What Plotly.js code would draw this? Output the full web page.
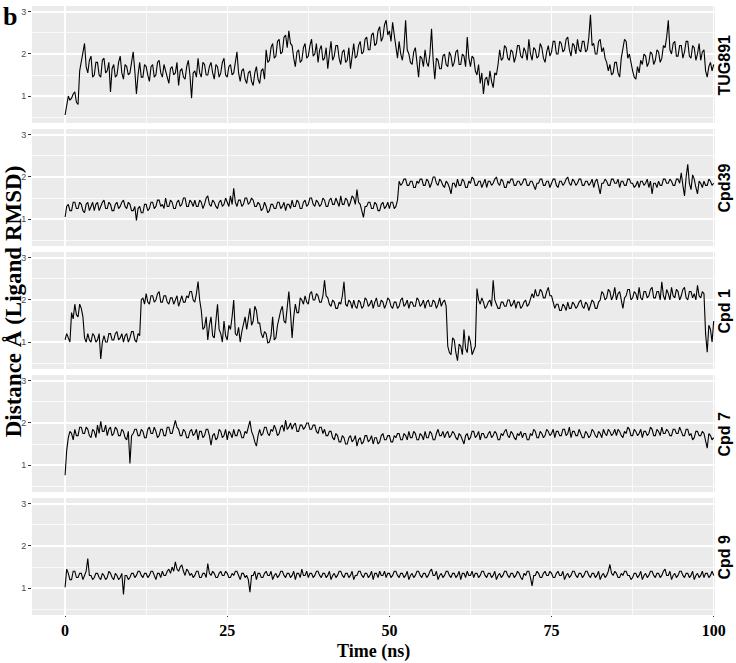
<!DOCTYPE html>
<html>
<head>
<meta charset="utf-8">
<script src="https://cdn.plot.ly/plotly-3.0.1.min.js"></script>
<style>
  html, body { margin: 0; padding: 0; background: #ffffff; }
  #chart { width: 736px; height: 663px; }
</style>
</head>
<body>
<div id="chart"></div>
<script>
// ===== Data (one sample every 0.25 ns) =====
const timeStart = 0;
const timeStep = 0.25;
const timeTicks = [0, 25, 50, 75, 100];
const rmsdTicks = [1, 2, 3];
const panelNames = ['TUG891', 'Cpd39', 'Cpd 1', 'Cpd 7', 'Cpd 9'];

const rmsdTUG891 = [
  0.55,0.8, 1.0,0.9, 0.95,1.05, 1.1,0.85, 0.8,1.6, 1.85,2.1, 2.25,1.7, 1.55,1.85, 1.95,1.45, 1.5,1.8,
  1.8,1.5, 1.45,1.85, 1.9,1.55, 1.6,1.8, 1.1,1.65, 1.75,1.45, 1.5,1.8, 1.95,1.55, 1.4,1.75, 1.7,1.5,
  1.55,1.8, 2.05,1.6, 1.05,1.5, 1.8,1.45, 1.45,1.75, 1.7,1.5, 1.35,1.7, 1.75,1.45, 1.5,1.8, 1.85,1.55,
  1.45,1.75, 1.6,1.4, 1.3,1.65, 1.7,1.5, 1.55,1.8, 1.25,1.6, 1.65,1.45, 1.4,1.7, 1.85,1.5, 0.95,1.55,
  1.6,1.45, 1.9,1.55, 1.45,1.8, 1.75,1.5, 1.5,1.7, 1.8,1.55, 1.4,1.75, 1.7,1.45, 1.55,1.8, 1.9,1.5,
  1.45,1.7, 1.75,1.5, 1.55,1.8, 2.05,1.55, 1.35,1.6, 1.65,1.4, 1.3,1.55, 1.6,1.35, 1.25,1.55, 1.7,1.4,
  1.3,1.6, 1.65,1.4, 2.1,1.8, 1.85,2.15, 2.25,1.9, 1.95,2.3, 2.35,2.0, 2.05,2.4, 2.45,2.15, 2.55,2.25,
  2.2,1.9, 1.7,2.05, 2.1,1.8, 1.85,2.15, 2.25,1.9, 1.95,2.2, 2.35,1.95, 2.0,2.25, 1.8,2.1, 2.2,1.85,
  1.9,2.15, 1.65,2.0, 2.3,1.85, 1.95,2.2, 2.2,1.9, 1.75,2.05, 2.1,1.8, 1.85,2.15, 1.65,1.95, 2.25,1.9,
  1.95,2.2, 2.3,2.0, 2.05,2.35, 2.4,2.1, 2.1,2.45, 2.5,2.2, 2.25,2.55, 2.65,2.3, 2.4,2.7, 2.8,2.45,
  2.55,2.3, 2.75,2.45, 2.1,1.9, 2.3,2.0, 1.85,2.15, 2.8,2.1, 2.0,1.8, 1.75,2.05, 2.15,1.8, 1.45,1.95,
  1.9,1.7, 2.1,1.8, 1.7,2.0, 2.6,1.85, 1.4,1.9, 1.85,1.65, 1.65,1.95, 2.0,1.75, 1.7,2.05, 1.95,1.7,
  1.8,2.05, 2.1,1.75, 1.75,2.0, 1.95,1.7, 2.4,1.9, 1.7,1.95, 1.9,1.6, 1.5,1.75, 1.3,1.55, 1.05,1.4,
  1.45,1.25, 1.6,1.35, 1.2,1.55, 1.5,1.75, 2.1,1.85, 1.9,2.2, 2.15,1.9, 1.85,2.1, 2.05,1.8, 1.95,2.2,
  2.2,1.95, 1.9,2.15, 2.05,1.85, 2.35,2.0, 1.85,2.15, 2.1,1.9, 1.95,2.25, 2.15,1.9, 1.8,2.05, 2.2,1.95,
  2.05,2.3, 2.3,2.0, 2.0,2.3, 2.25,2.05, 2.1,2.35, 2.4,2.1, 1.95,2.25, 2.2,2.0, 2.35,2.1, 2.05,2.3,
  2.3,2.05, 2.1,2.4, 2.93,2.2, 2.25,2.0, 2.0,2.3, 2.35,2.05, 2.15,1.9, 1.8,1.6, 1.75,1.5, 1.55,1.8,
  1.8,1.55, 1.45,1.9, 2.1,2.35, 2.3,1.9, 2.0,1.75, 1.6,1.45, 1.4,1.7, 1.55,1.85, 1.75,2.0, 1.95,1.7,
  1.8,2.05, 2.0,1.75, 1.85,2.1, 2.05,1.8, 1.9,2.2, 2.15,2.4, 2.8,2.1, 2.0,2.25, 2.3,1.95, 1.95,2.2,
  2.2,1.9, 2.05,2.3, 2.3,1.95, 1.9,2.2, 2.15,1.85, 2.0,2.25, 1.85,2.05, 2.1,1.6, 1.45,1.7, 1.8,1.6,
  1.75
];

const rmsdCpd39 = [
  1.05,1.3, 1.35,1.2, 1.2,1.4, 1.4,1.25, 1.25,1.4, 1.35,1.2, 1.15,1.35, 1.4,1.2, 1.3,1.4, 1.2,1.35,
  1.4,1.2, 1.3,1.4, 1.45,1.25, 1.25,1.4, 1.35,1.2, 1.2,1.35, 1.4,1.25, 1.3,1.4, 1.45,1.3, 1.25,1.4,
  1.35,1.2, 1.2,1.3, 0.97,1.25, 1.3,1.15, 1.15,1.35, 1.35,1.2, 1.25,1.4, 1.4,1.25, 1.3,1.45, 1.45,1.3,
  1.35,1.25, 1.5,1.3, 1.3,1.45, 1.4,1.25, 1.25,1.4, 1.45,1.3, 1.35,1.5, 1.5,1.3, 1.3,1.45, 1.4,1.3,
  1.45,1.3, 1.3,1.45, 1.4,1.25, 1.35,1.5, 1.55,1.35, 1.3,1.45, 1.4,1.3, 1.25,1.4, 1.45,1.3, 1.35,1.5,
  1.4,1.3, 1.55,1.35, 1.73,1.4, 1.3,1.45, 1.45,1.3, 1.35,1.5, 1.5,1.35, 1.4,1.5, 1.45,1.3, 1.3,1.4,
  1.35,1.2, 1.25,1.4, 1.3,1.15, 1.2,1.35, 1.35,1.25, 1.25,1.4, 1.4,1.25, 1.3,1.4, 1.2,1.35, 1.35,1.25,
  1.45,1.3, 1.3,1.45, 1.4,1.25, 1.25,1.4, 1.45,1.3, 1.35,1.5, 1.5,1.35, 1.3,1.45, 1.4,1.3, 1.35,1.5,
  1.45,1.3, 1.3,1.45, 1.5,1.35, 1.35,1.5, 1.4,1.3, 1.55,1.35, 1.35,1.5, 1.45,1.3, 1.4,1.55, 1.5,1.35,
  1.7,1.4, 1.35,1.2, 1.04,1.3, 1.3,1.4, 1.4,1.25, 1.25,1.4, 1.35,1.2, 1.2,1.35, 1.4,1.25, 1.3,1.4,
  1.25,1.4, 1.4,1.25, 1.3,1.45, 1.9,1.8, 1.85,1.95, 1.95,1.8, 1.8,1.9, 1.9,1.75, 1.75,1.9, 1.85,1.95,
  1.95,1.8, 1.8,1.95, 1.9,1.75, 1.85,2.0, 2.0,1.85, 1.8,1.95, 1.9,1.8, 1.75,1.9, 1.85,1.75, 1.6,1.85,
  1.85,1.75, 1.95,1.8, 1.8,1.95, 1.9,1.75, 1.75,1.9, 1.85,2.0, 1.95,1.8, 1.8,1.9, 1.9,1.75, 1.85,1.95,
  1.75,1.9, 1.9,1.8, 1.85,1.95, 2.0,1.85, 1.8,1.95, 1.9,1.75, 1.75,1.9, 1.85,1.95, 1.95,1.8, 1.8,1.9,
  1.9,1.8, 1.85,1.95, 1.95,1.8, 1.8,1.9, 1.9,1.8, 1.7,1.85, 1.85,1.95, 1.95,1.8, 1.8,1.9, 1.9,1.75,
  1.85,1.95, 1.95,1.8, 1.75,1.9, 1.9,1.8, 1.85,1.95, 2.0,1.85, 1.8,1.95, 1.9,1.8, 1.85,1.95, 1.95,1.8,
  1.8,1.9, 1.9,1.8, 1.85,1.95, 1.75,1.9, 1.95,1.8, 1.6,1.85, 1.85,1.95, 1.9,1.8, 1.8,1.95, 1.95,1.85,
  1.85,1.95, 1.75,1.9, 1.9,1.8, 1.8,1.95, 1.95,1.85, 1.85,1.75, 1.8,1.9, 1.75,1.9, 1.9,1.8, 1.85,1.95,
  1.75,1.9, 1.6,1.85, 1.85,1.75, 1.9,1.8, 1.8,1.95, 1.95,1.85, 1.85,1.95, 1.9,1.8, 1.8,1.95, 1.95,1.85,
  2.1,1.8, 1.55,2.0, 2.3,1.85, 1.7,2.05, 1.95,1.75, 1.6,1.9, 1.85,1.75, 1.9,1.8, 1.8,1.95, 1.9,1.8,
  1.85
];

const rmsdCpd1 = [
  1.05,1.2, 1.1,1.0, 1.7,1.55, 1.9,1.65, 1.6,1.9, 1.8,1.6, 1.1,1.0, 1.2,1.05, 1.0,1.2, 1.15,1.0,
  1.05,1.2, 0.6,1.0, 1.15,1.0, 1.0,1.2, 1.2,1.05, 1.05,1.2, 1.25,1.05, 1.1,1.2, 1.0,1.15, 1.2,1.0,
  1.1,1.25, 1.25,1.05, 1.0,1.2, 1.15,2.0, 2.05,1.9, 2.15,1.95, 1.9,2.1, 2.1,1.95, 2.0,2.15, 2.2,1.95,
  1.95,2.1, 2.1,1.95, 1.9,2.05, 2.05,1.9, 2.0,2.1, 1.85,2.0, 2.1,1.95, 1.95,2.1, 2.05,2.2, 2.2,2.0,
  1.95,2.15, 2.44,2.0, 1.75,1.3, 1.35,1.6, 1.05,1.4, 1.6,1.15, 1.1,1.5, 1.9,1.3, 1.2,1.0, 1.5,1.15,
  1.05,1.4, 1.3,1.6, 2.0,1.2, 1.15,1.35, 1.0,1.25, 1.4,1.6, 1.3,1.55, 1.8,1.4, 1.5,1.85, 1.75,1.45,
  1.45,1.2, 1.1,1.25, 1.2,0.98, 1.0,1.15, 1.6,1.05, 1.1,1.4, 1.6,1.75, 1.85,1.5, 1.45,1.9, 2.2,1.7,
  1.1,1.6, 1.9,1.7, 1.7,2.05, 2.0,1.9, 2.1,1.95, 1.9,2.15, 2.2,2.0, 2.0,2.15, 2.1,1.95, 1.95,2.1,
  2.47,2.1, 2.05,1.9, 1.85,2.0, 1.95,1.8, 1.8,1.95, 1.9,2.1, 2.43,1.9, 1.85,2.0, 1.95,1.8, 2.0,1.85,
  1.8,2.0, 1.95,1.8, 1.85,2.05, 2.0,1.85, 1.9,2.0, 1.8,1.95, 2.05,1.85, 1.85,2.0, 1.95,1.8, 1.9,2.05,
  2.0,1.85, 1.8,1.95, 1.95,1.8, 1.85,2.0, 2.05,1.85, 1.9,2.0, 1.8,1.95, 1.95,1.85, 1.85,2.05, 2.0,1.85,
  1.9,2.0, 1.8,1.95, 2.0,1.85, 1.85,2.0, 1.95,1.8, 1.9,2.05, 1.85,1.95, 2.0,1.85, 0.9,0.75, 0.7,1.1,
  1.05,0.75, 0.56,0.95, 0.9,0.7, 1.3,0.85, 0.75,1.15, 1.0,0.7, 0.8,0.9, 2.27,2.0, 1.9,2.05, 1.95,1.8,
  1.85,1.95, 2.0,1.85, 2.47,2.0, 1.9,1.8, 1.8,1.95, 1.95,1.85, 1.85,2.0, 2.0,1.85, 1.9,2.0, 1.8,1.95,
  1.95,1.8, 1.85,1.95, 2.0,1.85, 1.9,2.05, 2.15,2.05, 2.25,2.1, 2.1,2.25, 2.2,2.05, 2.05,2.2, 2.3,2.1,
  2.1,1.95, 1.8,1.9, 1.9,1.75, 1.75,1.9, 1.85,1.75, 1.95,1.8, 1.8,1.95, 1.9,1.8, 1.85,1.95, 2.0,1.85,
  1.8,1.95, 1.9,1.75, 1.85,2.0, 1.95,1.8, 1.8,1.95, 2.0,2.2, 2.15,2.0, 2.05,2.25, 2.2,2.0, 2.1,2.3,
  2.0,2.15, 2.2,2.0, 1.8,2.05, 2.1,2.25, 2.25,2.0, 2.05,2.2, 2.15,2.0, 2.3,2.05, 2.0,2.2, 2.2,2.05,
  2.1,2.25, 2.3,2.05, 2.05,2.2, 2.2,2.0, 2.43,2.1, 2.0,2.25, 2.15,2.0, 2.3,2.1, 2.05,2.25, 2.2,2.0,
  2.1,2.25, 2.3,2.05, 2.0,2.2, 2.2,2.05, 2.15,2.0, 2.35,2.1, 2.05,2.2, 2.15,1.2, 0.76,1.4, 1.3,1.0,
  1.5
];

const rmsdCpd7 = [
  0.76,1.35, 1.65,1.8, 1.75,1.6, 1.85,1.7, 1.7,1.9, 1.9,1.75, 1.75,1.9, 1.85,1.7, 1.65,1.85, 1.8,1.65,
  1.95,1.75, 2.04,1.8, 1.8,1.95, 1.7,1.85, 1.9,1.7, 1.75,1.9, 1.85,1.7, 1.7,1.85, 1.8,1.65, 1.6,1.8,
  1.04,1.7, 1.75,1.85, 1.85,1.7, 1.7,1.85, 1.8,1.65, 1.65,1.85, 1.9,1.75, 1.75,1.9, 1.8,1.65, 1.7,1.85,
  1.85,1.7, 1.7,1.9, 1.9,1.75, 1.75,1.95, 2.06,1.9, 1.85,1.7, 1.7,1.85, 1.8,1.65, 1.65,1.8, 1.85,1.7,
  1.75,1.85, 1.6,1.8, 1.8,1.65, 1.7,1.85, 1.85,1.7, 1.47,1.7, 1.75,1.6, 1.65,1.85, 1.8,1.65, 1.7,1.85,
  1.6,1.8, 1.75,1.65, 1.85,1.7, 1.7,1.85, 1.8,1.65, 1.65,1.8, 1.75,1.9, 2.05,1.8, 1.7,1.55, 1.45,1.7,
  1.85,1.7, 1.75,1.9, 1.9,1.75, 1.7,1.85, 1.8,1.95, 1.85,1.7, 1.75,1.9, 1.95,1.8, 2.07,1.85, 1.9,2.0,
  1.85,1.95, 2.0,1.8, 1.8,1.95, 1.95,1.85, 1.9,2.0, 2.0,1.85, 1.85,1.95, 1.95,1.8, 1.75,1.9, 1.9,1.75,
  1.85,1.7, 1.7,1.8, 1.8,1.65, 1.6,1.75, 1.7,1.55, 1.55,1.7, 1.65,1.5, 1.5,1.65, 1.7,1.55, 1.6,1.7,
  1.45,1.6, 1.65,1.5, 1.55,1.7, 1.7,1.55, 1.6,1.7, 1.5,1.65, 1.65,1.5, 1.55,1.7, 1.75,1.6, 1.6,1.7,
  1.7,1.55, 1.55,1.7, 1.65,1.75, 1.75,1.6, 1.6,1.75, 1.7,1.6, 1.8,1.65, 1.65,1.8, 1.75,1.6, 1.6,1.75,
  1.7,1.6, 1.8,1.65, 1.65,1.8, 1.75,1.6, 1.6,1.75, 1.85,1.7, 1.7,1.8, 1.65,1.75, 1.8,1.65, 1.7,1.8,
  1.75,1.65, 1.6,1.75, 1.7,1.6, 1.5,1.7, 1.75,1.6, 1.65,1.8, 1.8,1.65, 1.7,1.8, 1.6,1.75, 1.75,1.65,
  1.65,1.75, 1.8,1.65, 1.7,1.8, 1.75,1.6, 1.6,1.75, 1.7,1.8, 1.85,1.7, 1.65,1.8, 1.75,1.65, 1.6,1.75,
  1.7,1.8, 1.65,1.75, 1.75,1.6, 1.6,1.75, 1.7,1.85, 1.8,1.65, 1.65,1.8, 1.75,1.65, 1.7,1.85, 1.8,1.7,
  1.75,1.85, 1.65,1.8, 1.8,1.7, 1.7,1.85, 1.85,1.7, 1.75,1.9, 1.65,1.8, 1.8,1.7, 1.7,1.85, 1.75,1.65,
  1.65,1.8, 1.75,1.65, 1.7,1.85, 1.8,1.7, 1.65,1.8, 1.75,1.65, 1.85,1.75, 1.7,1.85, 1.8,1.7, 1.75,1.85,
  1.7,1.85, 1.8,1.7, 1.65,1.8, 1.75,1.9, 1.85,1.7, 1.7,1.85, 1.8,1.7, 1.75,1.85, 1.65,1.8, 1.8,1.7,
  1.75,1.9, 1.85,1.7, 1.7,1.85, 1.8,1.7, 1.9,1.75, 1.75,1.85, 1.8,1.7, 1.7,1.85, 1.85,1.75, 1.75,1.9,
  1.8,1.7, 1.7,1.85, 1.85,1.7, 1.75,1.6, 1.65,1.8, 1.8,1.7, 1.7,1.8, 1.75,1.55, 1.4,1.75, 1.7,1.6,
  1.65
];

const rmsdCpd9 = [
  1.02,1.45, 1.35,1.2, 1.2,1.4, 1.4,1.25, 1.25,1.35, 1.35,1.2, 1.3,1.4, 1.7,1.3, 1.3,1.2, 1.25,1.35,
  1.35,1.25, 1.2,1.35, 1.3,1.2, 1.25,1.4, 1.35,1.25, 1.2,1.35, 1.3,1.2, 1.25,1.35, 0.85,1.3, 1.3,1.2,
  1.25,1.35, 1.35,1.25, 1.3,1.4, 1.4,1.3, 1.25,1.35, 1.35,1.25, 1.3,1.4, 1.4,1.3, 1.2,1.35, 1.35,1.25,
  1.4,1.3, 1.3,1.4, 1.45,1.35, 1.5,1.4, 1.62,1.45, 1.4,1.5, 1.55,1.4, 1.3,1.45, 1.4,1.3, 1.35,1.25,
  1.3,1.4, 1.4,1.25, 1.25,1.35, 1.35,1.25, 1.58,1.35, 1.3,1.4, 1.35,1.25, 1.25,1.35, 1.4,1.3, 1.3,1.4,
  1.35,1.25, 1.25,1.35, 1.3,1.4, 1.4,1.3, 1.2,1.35, 1.35,1.25, 1.3,1.2, 0.9,1.3, 1.3,1.4, 1.2,1.35,
  1.35,1.25, 1.25,1.35, 1.4,1.3, 1.3,1.4, 1.2,1.3, 1.35,1.25, 1.3,1.4, 1.4,1.3, 1.25,1.35, 1.35,1.25,
  1.3,1.4, 1.2,1.35, 1.35,1.25, 1.45,1.3, 1.3,1.4, 1.25,1.35, 1.35,1.25, 1.3,1.4, 1.4,1.3, 1.25,1.35,
  1.35,1.25, 1.3,1.4, 1.2,1.3, 1.35,1.25, 1.3,1.4, 1.4,1.3, 1.25,1.35, 1.35,1.25, 1.3,1.4, 1.2,1.3,
  1.3,1.4, 1.4,1.3, 1.25,1.35, 1.35,1.25, 1.3,1.4, 1.2,1.35, 1.35,1.25, 1.4,1.3, 1.3,1.4, 1.25,1.35,
  1.35,1.25, 1.3,1.4, 1.4,1.3, 1.25,1.35, 1.35,1.25, 1.3,1.4, 1.2,1.3, 1.35,1.25, 1.3,1.4, 1.4,1.3,
  1.25,1.35, 1.35,1.25, 1.3,1.4, 1.45,1.3, 1.3,1.4, 1.2,1.3, 1.35,1.25, 1.3,1.4, 1.4,1.3, 1.25,1.35,
  1.35,1.25, 1.3,1.4, 1.2,1.35, 1.35,1.25, 1.4,1.3, 1.3,1.4, 1.25,1.35, 1.35,1.25, 1.3,1.4, 1.4,1.3,
  1.25,1.35, 1.35,1.25, 1.3,1.4, 1.2,1.3, 1.35,1.25, 1.3,1.4, 1.4,1.3, 1.25,1.35, 1.35,1.25, 1.3,1.4,
  1.35,1.25, 1.2,1.35, 1.3,1.4, 1.4,1.25, 1.05,1.3, 1.3,1.4, 1.35,1.25, 1.25,1.35, 1.4,1.3, 1.3,1.4,
  1.35,1.25, 1.25,1.35, 1.4,1.3, 1.3,1.4, 1.2,1.3, 1.35,1.25, 1.3,1.4, 1.4,1.3, 1.25,1.35, 1.35,1.25,
  1.3,1.4, 1.4,1.3, 1.25,1.35, 1.35,1.25, 1.3,1.4, 1.2,1.3, 1.35,1.25, 1.3,1.4, 1.56,1.35, 1.3,1.4,
  1.35,1.25, 1.25,1.35, 1.3,1.4, 1.4,1.3, 1.3,1.2, 1.25,1.35, 1.35,1.25, 1.3,1.4, 1.2,1.3, 1.35,1.25,
  1.3,1.4, 1.4,1.3, 1.25,1.35, 1.35,1.25, 1.3,1.4, 1.45,1.3, 1.3,1.4, 1.2,1.3, 1.35,1.25, 1.3,1.4,
  1.4,1.3, 1.25,1.35, 1.35,1.25, 1.3,1.4, 1.2,1.3, 1.35,1.25, 1.3,1.4, 1.25,1.35, 1.35,1.25, 1.3,1.4,
  1.3
];

const panelSeries = [rmsdTUG891, rmsdCpd39, rmsdCpd1, rmsdCpd7, rmsdCpd9];

// ===== Build facet chart =====
function createChart() {
    const nPanels = panelSeries.length;
    const plotHeight = 663 - 6 - 48;
    const gapFrac = 6 / plotHeight;
    const panelFrac = (1 - gapFrac * (nPanels - 1)) / nPanels;

    const traces = panelSeries.map((vals, i) => ({
        type: 'scatter',
        mode: 'lines',
        x0: timeStart,
        dx: timeStep,
        y: vals,
        xaxis: i === 0 ? 'x' : 'x' + (i + 1),
        yaxis: i === 0 ? 'y' : 'y' + (i + 1),
        line: { color: '#000000', width: 1.1 },
        hoverinfo: 'skip',
        showlegend: false
    }));

    const layout = {
        width: 736,
        height: 663,
        margin: { t: 6, b: 48, l: 32, r: 21 },
        paper_bgcolor: '#ffffff',
        plot_bgcolor: '#EBEBEB',
        showlegend: false,
        annotations: [
            {
                text: 'b', xref: 'paper', yref: 'paper',
                x: -0.045, y: 1.01, xanchor: 'left', yanchor: 'top',
                showarrow: false,
                font: { family: 'Liberation Serif', size: 26, color: '#000', weight: 'bold' }
            },
            {
                text: 'Distance Å (Ligand RMSD)', xref: 'paper', yref: 'paper',
                x: -0.028, y: 0.515, xanchor: 'center', yanchor: 'middle',
                textangle: -90, showarrow: false,
                font: { family: 'Liberation Serif', size: 23, color: '#000', weight: 'bold' }
            },
            {
                text: 'Time (ns)', xref: 'paper', yref: 'paper',
                x: 0.5, y: -0.0595, xanchor: 'center', yanchor: 'middle',
                showarrow: false,
                font: { family: 'Liberation Serif', size: 18, color: '#000', weight: 'bold' }
            }
        ]
    };

    panelSeries.forEach((vals, i) => {
        const top = 1 - i * (panelFrac + gapFrac);
        const bottom = Math.max(0, top - panelFrac);
        const suffix = i === 0 ? '' : String(i + 1);
        const isBottom = i === nPanels - 1;

        layout['xaxis' + suffix] = {
            domain: [0, 1],
            anchor: 'y' + suffix,
            range: [-5.1, 100.2],
            tickmode: 'array',
            tickvals: timeTicks,
            ticktext: timeTicks.map(String),
            showticklabels: isBottom,
            ticks: isBottom ? 'outside' : '',
            ticklen: 1,
            tickcolor: '#333333',
            tickfont: { family: 'Liberation Serif', size: 16, color: '#000', weight: 'bold' },
            showgrid: true,
            gridcolor: '#ffffff',
            gridwidth: 1.4,
            minor: { tickmode: 'linear', tick0: 0, dtick: 12.5, showgrid: true, gridcolor: '#ffffff', gridwidth: 0.7 },
            zeroline: false,
            showline: false,
            fixedrange: true
        };

        layout['yaxis' + suffix] = {
            domain: [bottom, top],
            anchor: 'x' + suffix,
            range: [0.36, 3.14],
            tickmode: 'array',
            tickvals: rmsdTicks,
            ticktext: rmsdTicks.map(String),
            ticks: 'outside',
            ticklen: 3,
            tickcolor: '#333333',
            tickfont: { family: 'Liberation Sans', size: 9, color: '#4d4d4d' },
            showgrid: true,
            gridcolor: '#ffffff',
            gridwidth: 1.4,
            minor: { tickmode: 'linear', tick0: 0, dtick: 0.5, showgrid: true, gridcolor: '#ffffff', gridwidth: 0.7 },
            zeroline: false,
            showline: false,
            fixedrange: true
        };

        // strip label on the right of each panel
        layout.annotations.push({
            text: panelNames[i],
            xref: 'paper',
            yref: 'y' + suffix + ' domain',
            x: 1.0146, y: 0.5,
            xanchor: 'center', yanchor: 'middle',
            textangle: -90,
            showarrow: false,
            font: { family: 'Liberation Sans', size: 16, color: '#000', weight: 'bold' }
        });
    });

    Plotly.newPlot('chart', traces, layout, { displayModeBar: false, staticPlot: true });
}

document.addEventListener('DOMContentLoaded', createChart);
</script>
</body>
</html>
